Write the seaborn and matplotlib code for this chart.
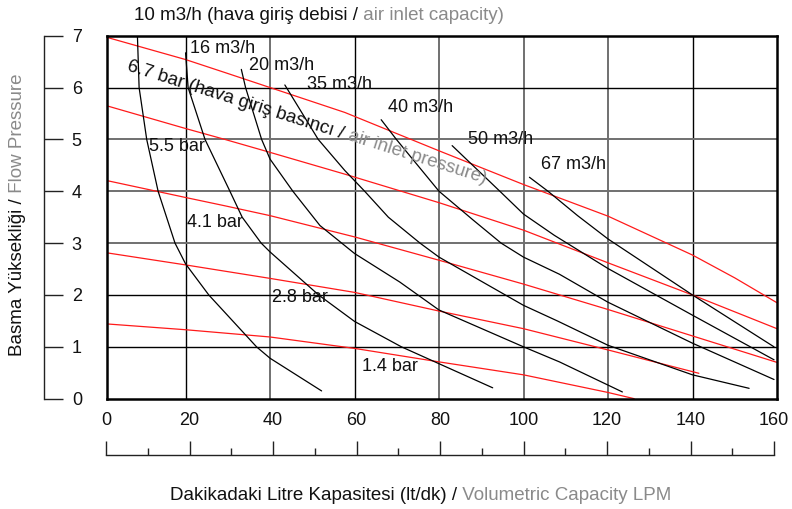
import matplotlib
matplotlib.use("Agg")
import matplotlib.pyplot as plt
import seaborn as sns

sns.set_theme(style="white")
plt.rcParams["font.family"] = ["Liberation Sans", "DejaVu Sans"]

# air inlet pressure curves (red), x = LPM, y = bar
p67_x = [0, 20, 29.3, 40, 57.7, 80, 100, 120, 140, 150, 160]
p67_y = [7.0, 6.54, 6.29, 6.0, 5.52, 4.78, 4.13, 3.52, 2.77, 2.33, 1.85]
p55_x = [0, 20, 29.3, 40, 57.7, 80, 100, 120, 140, 160]
p55_y = [5.68, 5.21, 5.0, 4.75, 4.33, 3.78, 3.25, 2.62, 2.0, 1.35]
p41_x = [0, 20, 29.3, 40, 60, 80, 100, 120, 140, 160]
p41_y = [4.23, 3.88, 3.72, 3.53, 3.12, 2.67, 2.21, 1.72, 1.21, 0.70]
p28_x = [0, 20, 40, 60, 80, 100, 120, 141.5]
p28_y = [2.83, 2.58, 2.32, 2.05, 1.69, 1.35, 0.94, 0.49]
p14_x = [0, 20, 40, 60, 80, 100, 120, 126.2]
p14_y = [1.45, 1.33, 1.19, 0.97, 0.71, 0.46, 0.12, 0.0]

# air consumption curves (black)
q10_x = [8.6, 9.0, 10.8, 13.5, 17.5, 20.0, 25.5, 36.8, 40.0, 52.2]
q10_y = [7.0, 6.0, 5.0, 4.0, 3.0, 2.6, 2.0, 1.0, 0.78, 0.15]
q16_x = [20.0, 20.6, 24.6, 30.5, 33.4, 37.9, 40.0, 51.5, 60.0, 71.1, 92.7]
q16_y = [6.67, 6.0, 5.0, 4.0, 3.5, 3.0, 2.83, 2.0, 1.49, 1.0, 0.21]
q20_x = [33.2, 34.2, 38.0, 40.0, 45.4, 51.8, 60.0, 70.7, 80.0, 100.0, 108.5, 123.4]
q20_y = [6.35, 6.0, 5.0, 4.62, 4.0, 3.34, 2.8, 2.25, 1.71, 1.0, 0.71, 0.13]
q35_x = [43.5, 51.4, 57.7, 62.4, 68.0, 75.5, 80.0, 100.0, 108.0, 120.0, 140.0, 153.4]
q35_y = [6.05, 5.0, 4.4, 4.0, 3.5, 3.0, 2.73, 1.8, 1.5, 1.03, 0.46, 0.2]
q40_x = [66.3, 69.9, 80.0, 88.0, 94.7, 100.0, 108.5, 120.0, 140.0, 159.3]
q40_y = [5.38, 5.0, 4.0, 3.45, 3.0, 2.73, 2.4, 1.86, 1.07, 0.37]
q50_x = [83.1, 94.4, 100.0, 107.3, 120.0, 140.0, 159.3]
q50_y = [4.88, 4.0, 3.56, 3.15, 2.51, 1.61, 0.75]
q67_x = [101.4, 105.8, 112.8, 120.0, 140.0, 159.3]
q67_y = [4.27, 4.0, 3.53, 3.08, 2.0, 1.0]

x_ticks = [0, 20, 40, 60, 80, 100, 120, 140, 160]
y_ticks = [0, 1, 2, 3, 4, 5, 6, 7]
grey_x_grid = [40, 80, 100, 120]
grey_y_grid = [3, 4, 5]

W, H = 792, 509
fig = plt.figure(figsize=(W / 100, H / 100), dpi=100)

# main plot area with frame and grid
ax = fig.add_axes([107 / W, (H - 398.7) / H, 670 / W, 363 / H])
ax.set_xlim(1.4, 160)
ax.set_ylim(0, 7)
ax.set_xticks(x_ticks[1:-1])
ax.set_yticks(y_ticks[1:-1])
ax.tick_params(length=0, labelbottom=False, labelleft=False)
ax.grid(True, color="black", lw=1.0)
for gl, v in zip(ax.get_xgridlines(), x_ticks[1:-1]):
    if v in grey_x_grid:
        gl.set_color("#707070")
        gl.set_linewidth(1.4)
for gl, v in zip(ax.get_ygridlines(), y_ticks[1:-1]):
    if v in grey_y_grid:
        gl.set_color("#707070")
        gl.set_linewidth(1.4)
ax.set_axisbelow(True)
for s in ax.spines.values():
    s.set_color("black")
    s.set_linewidth(1.8)

for xs, ys in [(p67_x, p67_y), (p55_x, p55_y), (p41_x, p41_y),
               (p28_x, p28_y), (p14_x, p14_y)]:
    sns.lineplot(x=xs, y=ys, ax=ax, color="#ff1a1a", lw=0.9, sort=False, estimator=None)
for xs, ys in [(q10_x, q10_y), (q16_x, q16_y), (q20_x, q20_y), (q35_x, q35_y),
               (q40_x, q40_y), (q50_x, q50_y), (q67_x, q67_y)]:
    sns.lineplot(x=xs, y=ys, ax=ax, color="black", lw=0.9, sort=False, estimator=None)
ax.set_xlabel("")
ax.set_ylabel("")

# curve labels
fs = 13
for txt, x, y in [("16 m3/h", 21.0, 6.75), ("20 m3/h", 35.0, 6.42),
                  ("35 m3/h", 48.7, 6.05), ("40 m3/h", 67.9, 5.62),
                  ("50 m3/h", 86.9, 4.99), ("67 m3/h", 104.1, 4.52),
                  ("5.5 bar", 11.3, 4.87), ("4.1 bar", 20.3, 3.39),
                  ("2.8 bar", 40.5, 1.96), ("1.4 bar", 61.8, 0.63)]:
    ax.text(x, y, txt, fontsize=fs, color="#111111", ha="left", va="center")

# rotated pressure caption, black then grey part
rot = -17.6
ax.text(57.3, 5.1, "6.7 bar (hava giriş basıncı /", fontsize=13.5, color="#111111",
        rotation=rot, rotation_mode="anchor", ha="right", va="center")
ax.text(57.3, 5.1, " air inlet pressure)", fontsize=13.5, color="#8a8a8a",
        rotation=rot, rotation_mode="anchor", ha="left", va="center")

# separate y axis on the left
ay = fig.add_axes([44 / W, (H - 398.7) / H, 0.05, 363 / H])
ay.set_ylim(0, 7)
ay.set_yticks(y_ticks)
ay.set_xticks([])
ay.patch.set_visible(False)
for k in ["top", "right", "bottom"]:
    ay.spines[k].set_visible(False)
ay.spines["left"].set_color("#222222")
ay.spines["left"].set_linewidth(1.0)
ay.tick_params(axis="y", left=True, direction="in", length=14, width=1.0,
               color="#222222", pad=-20, labelsize=13, labelcolor="#111111")
for lbl in ay.get_yticklabels():
    lbl.set_ha("left")

# separate x axis below
ab = fig.add_axes([106 / W, (H - 455) / H, 668 / W, 0.01])
ab.set_xlim(0, 160)
ab.set_yticks([])
ab.set_xticks(x_ticks)
ab.set_xticks([v + 10 for v in x_ticks[:-1]], minor=True)
ab.patch.set_visible(False)
for k in ["top", "right", "left"]:
    ab.spines[k].set_visible(False)
ab.spines["bottom"].set_color("#222222")
ab.spines["bottom"].set_linewidth(1.0)
ab.tick_params(axis="x", which="major", bottom=True, direction="in", length=10,
               width=1.0, color="#222222", pad=-31, labelsize=13, labelcolor="#111111")
ab.tick_params(axis="x", which="minor", bottom=True, direction="in", length=5,
               width=1.0, color="#222222")

# titles (black + grey parts)
tfs = 13.5
fig.text(358 / W, (H - 16) / H, "10 m3/h (hava giriş debisi /", fontsize=tfs,
         color="#111111", ha="right", va="center")
fig.text(358 / W, (H - 16) / H, " air inlet capacity)", fontsize=tfs,
         color="#8a8a8a", ha="left", va="center")
fig.text(457 / W, (H - 495) / H, "Dakikadaki Litre Kapasitesi (lt/dk) /", fontsize=tfs,
         color="#111111", ha="right", va="center")
fig.text(457 / W, (H - 495) / H, " Volumetric Capacity LPM", fontsize=tfs,
         color="#8a8a8a", ha="left", va="center")
fig.text(18 / W, (H - 198) / H, "Basma Yüksekliği /", fontsize=tfs, color="#111111",
         rotation=90, rotation_mode="anchor", ha="right", va="center")
fig.text(18 / W, (H - 198) / H, " Flow Pressure", fontsize=tfs, color="#8a8a8a",
         rotation=90, rotation_mode="anchor", ha="left", va="center")

fig.savefig("out.png", dpi=100, facecolor="white")
